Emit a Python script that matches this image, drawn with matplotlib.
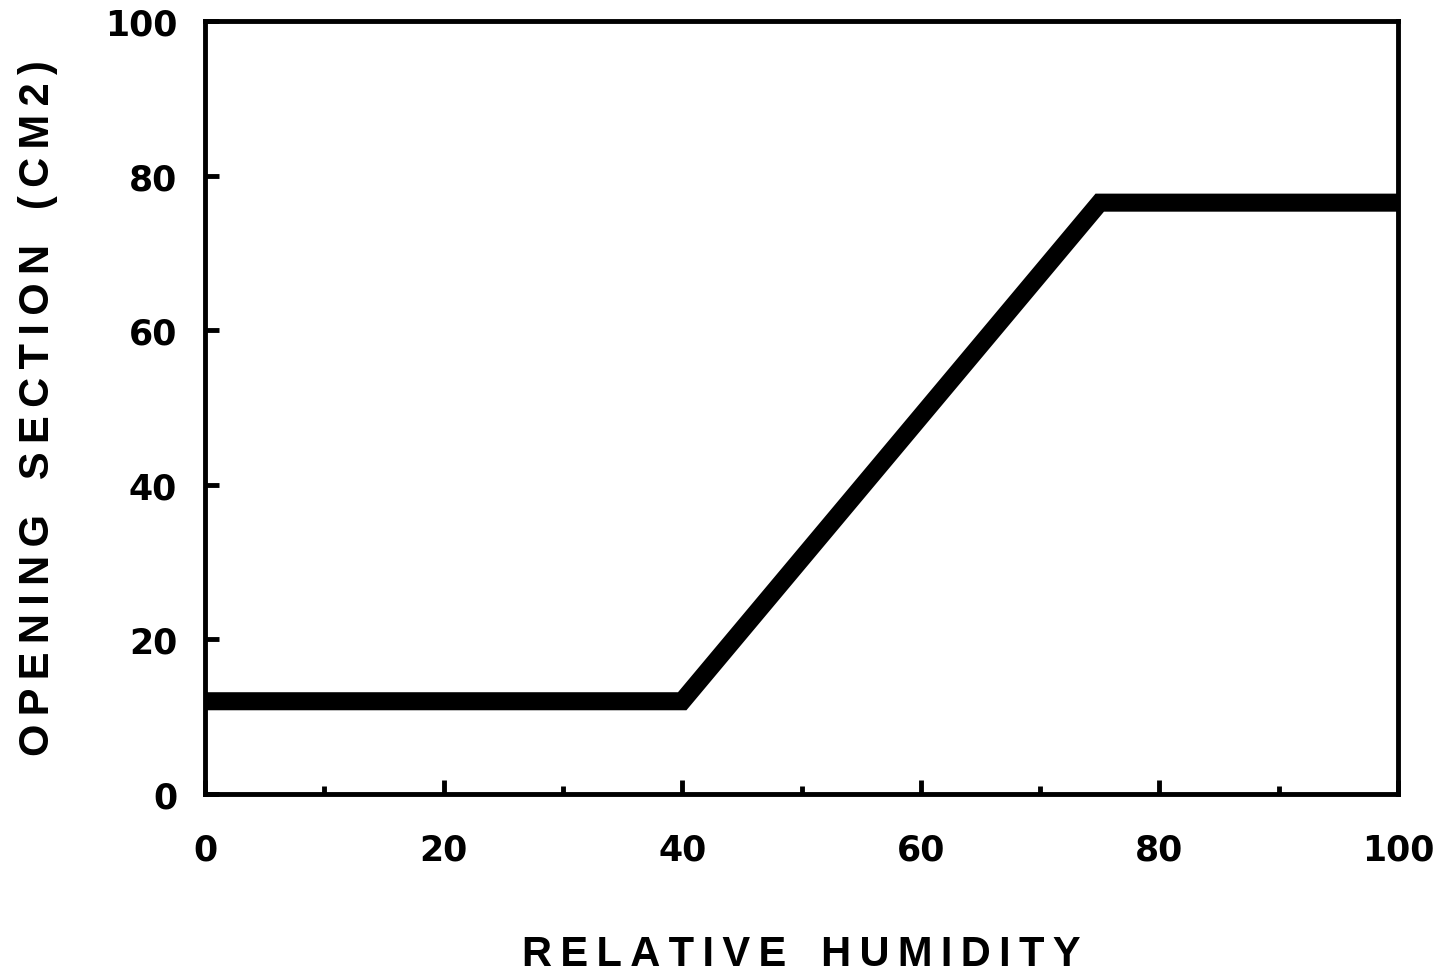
import matplotlib.pyplot as plt
from matplotlib.ticker import MultipleLocator

# humidity (%) vs opening section (cm2)
humidity = [0, 40, 75, 100]
opening = [12, 12, 76.5, 76.5]

ticks = [0, 20, 40, 60, 80, 100]
x_title = 'RELATIVE HUMIDITY'
y_title = 'OPENING SECTION (CM2)'

plt.rcParams['font.family'] = ['Liberation Sans', 'DejaVu Sans']
plt.rcParams['font.weight'] = 'bold'


def spaced(text):
    # wide letter spacing like the old plotter lettering
    words = text.split(' ')
    return '   '.join('\u2009'.join(w) for w in words)


fig = plt.figure(figsize=(14.37, 9.79), dpi=100)
ax = fig.add_axes([205 / 1437, 1 - 795 / 979, 1193 / 1437, 773 / 979])

ax.plot(humidity, opening, color='black', linewidth=13, solid_joinstyle='miter', solid_capstyle='butt')

ax.set_xlim(0, 100)
ax.set_ylim(0, 100)
ax.set_xticks(ticks)
ax.set_yticks(ticks)
ax.xaxis.set_minor_locator(MultipleLocator(10))

for s in ax.spines.values():
    s.set_linewidth(3.5)

ax.tick_params(axis='both', which='major', direction='in', length=10, width=3.5,
               labelsize=25)
ax.tick_params(axis='x', which='major', pad=28)
ax.tick_params(axis='y', which='major', pad=20)
ax.tick_params(axis='x', which='minor', direction='in', length=6, width=3.5)
for lab in ax.get_xticklabels() + ax.get_yticklabels():
    lab.set_fontfamily('DejaVu Sans')

ax.set_xlabel(spaced(x_title), fontsize=30, fontweight='bold', labelpad=48)
ax.set_ylabel(spaced(y_title), fontsize=30, fontweight='bold', labelpad=34)

fig.savefig('out.png', dpi=100)
